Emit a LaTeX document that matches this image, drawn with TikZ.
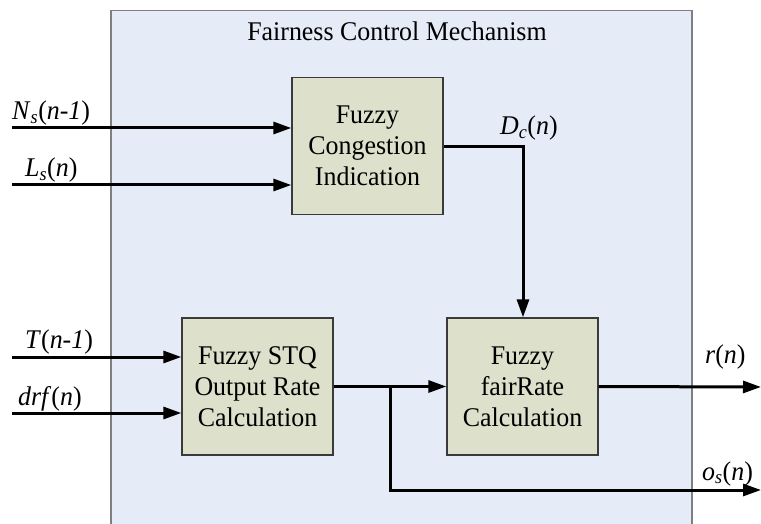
\documentclass[tikz,border=0pt]{standalone}
\usepackage{fontspec}
\setmainfont{Liberation Serif}[FakeStretch=0.96]
\usetikzlibrary{arrows.meta}
\definecolor{panelfill}{HTML}{E6ECF7}
\definecolor{panelline}{HTML}{7F7F7F}
\definecolor{blockfill}{HTML}{DDE0CB}
\definecolor{blockline}{HTML}{3A3A3A}
\tikzset{
  block/.style={draw=blockline, line width=1.3pt, fill=blockfill, align=center,
    minimum width=151pt, minimum height=137pt, inner sep=0pt,
    font=\fontsize{27}{31}\selectfont},
  sig/.style={line width=3pt, -{Triangle[length=18pt,width=12pt]}},
  lbl/.style={anchor=base west, inner sep=0pt, font=\fontsize{27}{31}\selectfont},
}
\newcommand{\vsub}[2]{\textit{#1}\textsubscript{\textit{#2}}}
\begin{document}
\begin{tikzpicture}[x=1pt,y=-1pt]
  \useasboundingbox (0,0) rectangle (761,524);
  % enclosing panel
  \draw[panelline, line width=1.5pt, fill=panelfill] (111,10.5) rectangle (692,540);
  \node[lbl, anchor=base] (title) at (397,41) {Fairness Control Mechanism};

  % processing blocks
  \node[block] (fci) at (367.5,146) {Fuzzy\\Congestion\\Indication};
  \node[block] (stq) at (257.5,386.5) {Fuzzy STQ\\Output Rate\\Calculation};
  \node[block] (fr)  at (522.5,386.5) {Fuzzy\\fairRate\\Calculation};

  % input ends
  \coordinate (inN) at (12,128);
  \coordinate (inL) at (12,185);
  \coordinate (inT) at (12,357);
  \coordinate (inD) at (12,413);
  % output ends
  \coordinate (outR) at (761,387);
  \coordinate (outO) at (761,490);
  \coordinate (split) at (390,387);
  \coordinate (dcbend) at (523,147);

  \draw[sig] (inN) -- (inN -| fci.west);
  \draw[sig] (inL) -- (inL -| fci.west);
  \draw[sig] (inT) -- (inT -| stq.west);
  \draw[sig] (inD) -- (inD -| stq.west);

  \draw[sig] (dcbend -| fci.east) -- (dcbend) -- (dcbend |- fr.north);
  \draw[sig] (stq.east) -- (fr.west);
  \draw[sig] (split) -- (split |- outO) -- (outO);
  \draw[sig] (fr.east) -- (outR);

  % signal labels
  \node[lbl] (lN) at (12,120) {\vsub{N}{s}(\textit{n-1})};
  \node[lbl] (lL) at (25,177) {\vsub{L}{s}(\textit{n})};
  \node[lbl] (lT) at (25,348) {\textit{T}(\textit{n-1})};
  \node[lbl] (lD) at (18,405) {\textit{drf}(\textit{n})};
  \node[lbl] (lDc) at (500,135) {\vsub{D}{c}(\textit{n})};
  \node[lbl] (lR) at (705,363) {\textit{r}(\textit{n})};
  \node[lbl] (lO) at (702,480) {\vsub{o}{s}(\textit{n})};
\end{tikzpicture}
\end{document}
